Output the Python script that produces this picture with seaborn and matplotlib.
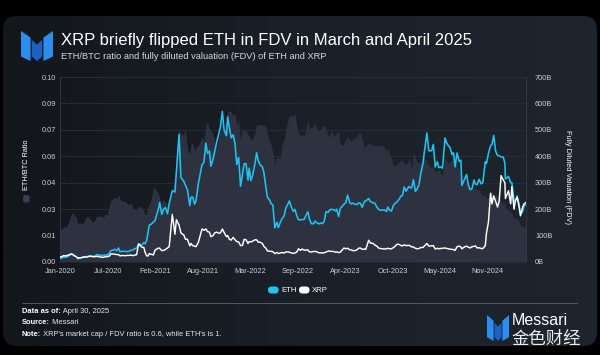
import numpy as np
import pandas as pd
import matplotlib
matplotlib.use('Agg')
import matplotlib.pyplot as plt
import matplotlib.dates as mdates
from matplotlib.patches import FancyBboxPatch, Polygon
from matplotlib.colors import LinearSegmentedColormap
import seaborn as sns

# Data (FDV in billions USD), roughly twice a month
dates = [
    '2020-01-01', '2020-01-16', '2020-02-01', '2020-02-16', '2020-03-01', '2020-03-16',
    '2020-04-01', '2020-04-16', '2020-05-01', '2020-05-16', '2020-06-01', '2020-06-16',
    '2020-07-01', '2020-07-16', '2020-08-01', '2020-08-16', '2020-09-01', '2020-09-16',
    '2020-10-01', '2020-10-16', '2020-11-01', '2020-11-16', '2020-11-24', '2020-12-01',
    '2020-12-16', '2020-12-28',
    '2021-01-08', '2021-01-16', '2021-02-01', '2021-02-16', '2021-03-01', '2021-03-16',
    '2021-04-01', '2021-04-14', '2021-04-25', '2021-05-01', '2021-05-12', '2021-05-20',
    '2021-06-01', '2021-06-16', '2021-07-01', '2021-07-16', '2021-08-01', '2021-08-16',
    '2021-09-01', '2021-09-16', '2021-10-01', '2021-10-16', '2021-11-01', '2021-11-09',
    '2021-11-16', '2021-12-01', '2021-12-16',
    '2022-01-01', '2022-01-16', '2022-02-01', '2022-02-16', '2022-03-01', '2022-03-16',
    '2022-04-01', '2022-04-16', '2022-05-01', '2022-05-16', '2022-06-01', '2022-06-16',
    '2022-07-01', '2022-07-16', '2022-08-01', '2022-08-16', '2022-09-01', '2022-09-16',
    '2022-09-23', '2022-10-01', '2022-10-16', '2022-11-01', '2022-11-16', '2022-12-01',
    '2022-12-16',
    '2023-01-01', '2023-01-16', '2023-02-01', '2023-02-16', '2023-03-01', '2023-03-16',
    '2023-04-01', '2023-04-16', '2023-05-01', '2023-05-16', '2023-06-01', '2023-06-16',
    '2023-07-01', '2023-07-13', '2023-07-20', '2023-08-01', '2023-08-16', '2023-09-01',
    '2023-09-16', '2023-10-01', '2023-10-16', '2023-11-01', '2023-11-16', '2023-12-01',
    '2023-12-16',
    '2024-01-01', '2024-01-16', '2024-02-01', '2024-02-16', '2024-03-01', '2024-03-12',
    '2024-03-20', '2024-04-01', '2024-04-16', '2024-05-01', '2024-05-16', '2024-05-27',
    '2024-06-01', '2024-06-16', '2024-07-01', '2024-07-16', '2024-08-01', '2024-08-05',
    '2024-08-16', '2024-09-01', '2024-09-16', '2024-10-01', '2024-10-16', '2024-11-01',
    '2024-11-11', '2024-11-16', '2024-11-24', '2024-12-03', '2024-12-16',
    '2025-01-01', '2025-01-16', '2025-02-01', '2025-02-03', '2025-02-16', '2025-03-02',
    '2025-03-11', '2025-03-16', '2025-04-01', '2025-04-07', '2025-04-16', '2025-04-30',
]

eth_btc = [
    .0175, .0190, .0200, .0255, .0245, .0200, .0205, .0235, .0240, .0215, .0245, .0245,
    .0240, .0255, .0335, .0350, .0365, .0330, .0325, .0310, .0285, .0280, .0300, .0300,
    .0275, .0265,
    .0310, .0340, .0400, .0365, .0320, .0320, .0330, .0375, .0455, .0500, .0720, .0690,
    .0690, .0610, .0640, .0600, .0630, .0680, .0740, .0720, .0690, .0620, .0710, .0720,
    .0700, .0810, .0810,
    .0800, .0770, .0720, .0710, .0680, .0670, .0745, .0745, .0740, .0690, .0630, .0530,
    .0560, .0640, .0720, .0790, .0790, .0730, .0700, .0680, .0680, .0770, .0730, .0755,
    .0710,
    .0730, .0720, .0690, .0680, .0700, .0640, .0640, .0680, .0650, .0670, .0690, .0660,
    .0630, .0640, .0640, .0630, .0630, .0630, .0620, .0620, .0560, .0520, .0540, .0550,
    .0530,
    .0560, .0600, .0540, .0540, .0560, .0550, .0520, .0510, .0490, .0500, .0460, .0560,
    .0560, .0540, .0550, .0530, .0500, .0440, .0440, .0420, .0390, .0400, .0390, .0360,
    .0355, .0340, .0350, .0385, .0370,
    .0355, .0330, .0320, .0290, .0280, .0260, .0240, .0230, .0215, .0200, .0190, .0190,
]

eth_fdv = [
    14, 18, 20, 29, 24, 12, 15, 19, 23, 22, 27, 26,
    25, 26, 43, 48, 53, 41, 40, 41, 45, 52, 68, 67,
    73, 83,
    140, 143, 157, 204, 180, 206, 221, 270, 265, 341, 483, 320,
    305, 274, 245, 219, 298, 368, 450, 420, 389, 452, 511, 570,
    500, 549, 470,
    448, 396, 332, 372, 355, 331, 413, 367, 340, 245, 220, 129,
    130, 163, 204, 231, 192, 174, 160, 159, 161, 190, 145, 155,
    144,
    145, 191, 198, 198, 200, 202, 219, 253, 220, 219, 224, 207,
    231, 240, 229, 224, 208, 196, 197, 208, 193, 222, 236, 251,
    268,
    282, 311, 277, 337, 412, 488, 421, 421, 360, 357, 355, 469,
    454, 435, 413, 413, 385, 290, 312, 292, 276, 295, 313, 302,
    380, 373, 410, 440, 479,
    403, 398, 374, 314, 324, 300, 229, 229, 219, 180, 191, 216,
]

xrp_fdv = [
    19, 24, 25, 31, 23, 15, 17, 19, 21, 20, 21, 19,
    18, 20, 31, 30, 28, 25, 24, 25, 24, 28, 68, 62,
    55, 23,
    32, 29, 45, 53, 43, 47, 58, 180, 105, 160, 140, 110,
    102, 86, 70, 60, 75, 125, 125, 113, 100, 113, 110, 125,
    112, 100, 83,
    84, 76, 63, 84, 77, 79, 84, 75, 60, 42, 40, 32,
    32, 36, 38, 37, 33, 38, 50, 44, 45, 46, 38, 40,
    35,
    34, 38, 41, 40, 38, 37, 53, 52, 46, 43, 52, 48,
    48, 82, 72, 70, 60, 51, 49, 52, 50, 60, 67, 61,
    62,
    62, 57, 50, 55, 60, 70, 60, 61, 49, 50, 52, 53,
    52, 49, 47, 58, 57, 50, 57, 56, 58, 61, 54, 51,
    62, 110, 150, 260, 250,
    208, 327, 300, 240, 270, 285, 200, 230, 210, 175, 208, 225,
]

# in-between readings where the lines wiggle
mid_dates = [
    '2020-01-08', '2020-01-25', '2020-02-08', '2020-02-24', '2020-03-08', '2020-03-24',
    '2020-04-08', '2020-04-25', '2020-05-08', '2020-05-25', '2020-06-08', '2020-06-25',
    '2020-07-08', '2020-07-25', '2020-08-08', '2020-08-25', '2020-09-08', '2020-09-25',
    '2020-10-08', '2020-10-25', '2020-11-08', '2020-12-08', '2020-12-22', '2021-01-03',
    '2021-01-25', '2021-02-20', '2021-03-08', '2021-03-25', '2021-06-08', '2021-06-26',
    '2021-07-08', '2021-07-22', '2021-08-24', '2021-09-08', '2021-09-22', '2021-10-08',
    '2021-10-24', '2021-11-26', '2021-12-08', '2021-12-24',
    '2022-01-08', '2022-01-24', '2022-02-08', '2022-02-24', '2022-03-08', '2022-03-25',
    '2022-04-08', '2022-04-25', '2022-05-10', '2022-05-25', '2022-06-08', '2022-06-25',
    '2022-07-08', '2022-07-25', '2022-08-08', '2022-08-25', '2022-09-08', '2022-10-08',
    '2022-10-25', '2022-11-08', '2022-11-25', '2022-12-08', '2022-12-25',
    '2023-01-08', '2023-01-25', '2023-02-08', '2023-02-25', '2023-03-10', '2023-03-25',
    '2023-04-08', '2023-04-25', '2023-05-08', '2023-05-25', '2023-06-08', '2023-06-25',
    '2023-08-08', '2023-08-25', '2023-09-08', '2023-09-25', '2023-10-08', '2023-10-25',
    '2023-11-08', '2023-11-25', '2023-12-08', '2023-12-28',
    '2024-01-08', '2024-01-24', '2024-02-08', '2024-02-25', '2024-04-08', '2024-04-25',
    '2024-05-08', '2024-06-08', '2024-06-25', '2024-07-08', '2024-07-25', '2024-08-25',
    '2024-09-08', '2024-09-25', '2024-10-08', '2024-10-25', '2024-12-09', '2024-12-24',
    '2025-01-08', '2025-01-25', '2025-02-25', '2025-03-24', '2025-04-22',
]

mid_eth_btc = [
    .0178, .0190, .0220, .0270, .0250, .0215, .0215, .0250, .0230, .0225, .0250, .0250,
    .0262, .0305, .0340, .0345, .0340, .0330, .0315, .0320, .0290, .0295, .0255, .0305,
    .0400, .0345, .0340, .0300, .0720, .0580, .0640, .0620, .0650, .0750, .0710, .0650,
    .0670, .0750, .0820, .0790,
    .0740, .0660, .0710, .0690, .0660, .0700, .0740, .0740, .0730, .0660, .0590, .0580,
    .0560, .0660, .0760, .0790, .0800, .0690, .0720, .0720, .0730, .0720, .0720,
    .0740, .0680, .0710, .0690, .0700, .0630, .0660, .0660, .0670, .0680, .0700, .0620,
    .0630, .0630, .0630, .0600, .0590, .0520, .0530, .0550, .0530, .0550,
    .0500, .0560, .0540, .0600, .0520, .0490, .0480, .0530, .0550, .0530, .0490, .0430,
    .0410, .0400, .0390, .0360, .0380, .0360, .0350, .0310, .0270, .0240, .0190,
]

mid_eth_fdv = [
    15, 18, 24, 29, 22, 15, 19, 21, 23, 22, 27, 25,
    27, 34, 44, 43, 38, 40, 39, 45, 51, 64, 69, 113,
    151, 225, 199, 183, 290, 213, 246, 232, 377, 411, 362, 419,
    481, 478, 510, 481,
    369, 286, 372, 310, 308, 371, 383, 360, 282, 235, 216, 150,
    148, 175, 216, 206, 199, 161, 177, 161, 145, 149, 148,
    153, 188, 199, 193, 172, 211, 224, 224, 223, 217, 222, 229,
    222, 198, 196, 191, 196, 215, 227, 250, 284, 286,
    280, 267, 292, 374, 445, 379, 360, 442, 407, 360, 381, 331,
    274, 310, 293, 295, 445, 420, 402, 397, 300, 250, 214,
]

mid_xrp_fdv = [
    20, 23, 27, 28, 20, 16, 19, 19, 22, 20, 21, 18,
    20, 22, 30, 28, 23, 24, 25, 26, 26, 56, 35, 23,
    27, 52, 44, 53, 86, 61, 62, 58, 120, 115, 96, 110,
    109, 96, 86, 93,
    77, 62, 86, 70, 76, 84, 75, 70, 52, 41, 39, 36,
    34, 34, 38, 34, 34, 49, 45, 38, 40, 39, 35,
    35, 41, 40, 37, 36, 46, 50, 46, 43, 46, 53, 49,
    64, 52, 50, 50, 50, 55, 67, 62, 65, 63,
    57, 52, 51, 55, 62, 52, 51, 50, 48, 44, 60, 60,
    53, 59, 53, 51, 220, 230, 230, 310, 220, 245, 220,
]

tick_dates = ['2020-01-01', '2020-07-19', '2021-02-02', '2021-08-19', '2022-03-05',
              '2022-09-19', '2023-04-05', '2023-10-20', '2024-05-05', '2024-11-20']
ratio_ticks = np.linspace(0, 0.1, 8)
fdv_ticks = [0, 100, 200, 300, 400, 500, 600, 700]

df = pd.concat([
    pd.DataFrame({'date': dates, 'ratio': eth_btc, 'ETH': eth_fdv, 'XRP': xrp_fdv}),
    pd.DataFrame({'date': mid_dates, 'ratio': mid_eth_btc, 'ETH': mid_eth_fdv, 'XRP': mid_xrp_fdv}),
])
df['date'] = pd.to_datetime(df['date'])
df = df.sort_values('date').reset_index(drop=True)

sns.set_theme(style='dark')
plt.rcParams['font.family'] = ['Liberation Sans', 'DejaVu Sans']

CYAN = '#1fc3f2'
AREA = '#2e3140'
TICK = '#c9ced6'

fig = plt.figure(figsize=(6, 3.55), dpi=100, facecolor='black')

# background card, pixel coordinates (y down)
bg = fig.add_axes([0, 0, 1, 1])
bg.set_xlim(0, 600)
bg.set_ylim(355, 0)
bg.set_axis_off()
grad = np.linspace(0, 1, 256).reshape(1, -1)
cmap = LinearSegmentedColormap.from_list('card', ['#13171c', '#1a2028', '#1e252e'])
im = bg.imshow(grad, cmap=cmap, extent=[3, 597, 346, 16], aspect='auto', zorder=0)
card = FancyBboxPatch((3, 16), 594, 330, boxstyle='round,pad=0,rounding_size=14',
                      facecolor='none', edgecolor='none')
bg.add_patch(card)
im.set_clip_path(card)


def draw_logo(x0, y0, w, h):
    pieces = [
        ([(0, 0), (0.3, 0.22), (0.3, 1.0), (0, 0.85)], '#2a8ef0'),
        ([(0.34, 0.3), (0.5, 0.45), (0.66, 0.3), (0.66, 0.85), (0.5, 1.0), (0.34, 0.85)], '#1c62c2'),
        ([(0.7, 0.22), (1, 0), (1, 0.85), (0.7, 1.0)], '#2a8ef0'),
    ]
    for pts, col in pieces:
        xy = [(x0 + px * w, y0 + py * h) for px, py in pts]
        bg.add_patch(Polygon(xy, closed=True, facecolor=col, edgecolor='none', zorder=2))


draw_logo(21, 31, 32, 30)
draw_logo(487, 315, 22, 26)

bg.text(61, 41, 'XRP briefly flipped ETH in FDV in March and April 2025',
        fontsize=12, color='white', va='center', ha='left')
bg.text(61, 56.5, 'ETH/BTC ratio and fully diluted valuation (FDV) of ETH and XRP',
        fontsize=6.7, color='#d4d8de', va='center', ha='left')

# main chart
ax = fig.add_axes([60 / 600, 1 - 262 / 355, 466 / 600, 185 / 355])
ax.set_facecolor('none')
ax.fill_between(df['date'], df['ratio'], color=AREA, lw=0, zorder=1)
ax.set_ylim(0, 0.1)
ax.set_xlim(df['date'].iloc[0], df['date'].iloc[-1])
ax.set_yticks(ratio_ticks)
ax.set_yticklabels([f'{v:.2f}' for v in ratio_ticks])
ax.set_xticks(pd.to_datetime(tick_dates))
ax.xaxis.set_major_formatter(mdates.DateFormatter('%b-%Y'))
ax.set_axisbelow(True)
ax.yaxis.grid(True, color='#2a3038', lw=0.6)
ax.xaxis.grid(False)
ax.tick_params(axis='both', labelsize=5.3, colors=TICK, length=0)
ax.tick_params(axis='x', pad=4.5)
ax.tick_params(axis='y', pad=3)
ax.set_xlabel('')
ax.set_ylabel('')
for s in ['top', 'bottom']:
    ax.spines[s].set_visible(False)
for s in ['left', 'right']:
    ax.spines[s].set_color('#353b44')
    ax.spines[s].set_linewidth(0.6)

ax2 = ax.twinx()
ax2.set_facecolor('none')
sns.lineplot(data=df, x='date', y='ETH', ax=ax2, color=CYAN, lw=1.15, zorder=3)
sns.lineplot(data=df, x='date', y='XRP', ax=ax2, color='white', lw=1.05, zorder=4)
ax2.set_ylim(0, 700)
ax2.set_yticks(fdv_ticks)
ax2.set_yticklabels([f'{v}B' for v in fdv_ticks])
ax2.tick_params(axis='y', labelsize=5.3, colors=TICK, length=0, pad=6.5)
ax2.grid(False)
ax2.set_xlabel('')
ax2.set_ylabel('')
for s in ax2.spines.values():
    s.set_visible(False)

# axis titles
bg.text(567, 177, 'Fully Diluted Valuation (FDV)', rotation=270, fontsize=5.3,
        color='white', va='center', ha='center')
bg.text(26, 165, 'ETH/BTC Ratio', rotation=90, fontsize=5.3,
        color='white', va='center', ha='center')
bg.add_patch(FancyBboxPatch((23, 195), 6.5, 7.5, boxstyle='round,pad=0,rounding_size=2.5',
                            facecolor='#3b3e4e', edgecolor='none'))

# legend
bg.add_patch(FancyBboxPatch((268, 286.5), 10.5, 7, boxstyle='round,pad=0,rounding_size=3.5',
                            facecolor=CYAN, edgecolor='none'))
bg.text(281, 290, 'ETH', fontsize=5.6, color='white', va='center', ha='left')
bg.add_patch(FancyBboxPatch((299, 286.5), 10.5, 7, boxstyle='round,pad=0,rounding_size=3.5',
                            facecolor='white', edgecolor='none'))
bg.text(312, 290, 'XRP', fontsize=5.6, color='white', va='center', ha='left')

# footer
bg.plot([22, 577], [303, 303], color='#5c626a', lw=0.6)
footer = [('Data as of:', ' April 30, 2025', 311.5),
          ('Source:', ' Messari', 323),
          ('Note:', " XRP's market cap / FDV ratio is 0.6, while ETH's is 1.", 334.5)]
for label, rest, y in footer:
    t = bg.text(22, y, label, fontsize=5.4, color='white', fontweight='bold',
                va='center', ha='left')
    bg.annotate(rest, xy=(1, 0.5), xycoords=t, va='center', ha='left',
                fontsize=5.4, color='#e6e8eb')

bg.text(512, 320.5, 'Messari', fontsize=11.5, color='white', va='center', ha='left')
bg.text(511, 338.5, '金色财经', fontsize=12.5, color='white', alpha=0.92, va='center',
        ha='left', family=['Noto Sans CJK SC', 'DejaVu Sans'])

fig.savefig('out.png', dpi=100, facecolor='black')
